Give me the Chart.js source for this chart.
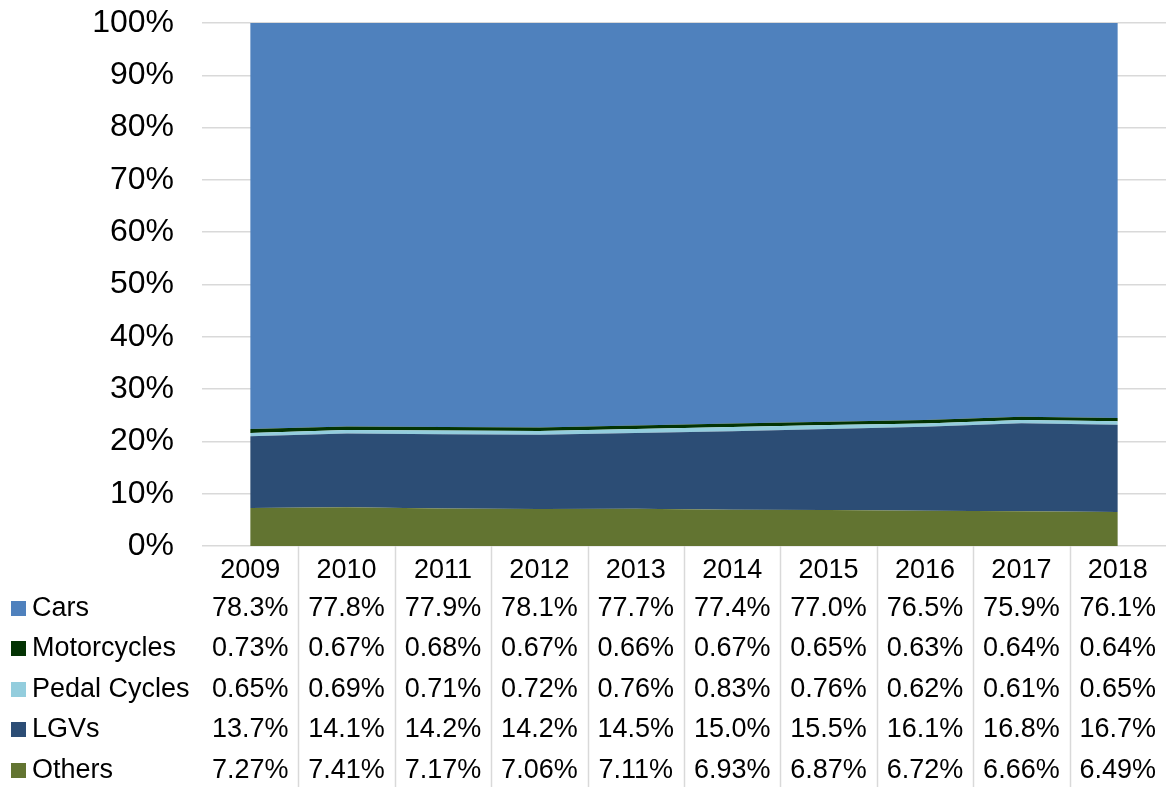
<!DOCTYPE html>
<html>
<head>
<meta charset="utf-8">
<script src="https://cdn.jsdelivr.net/npm/chart.js@4/dist/chart.umd.min.js"></script>
<style>
  html, body { margin: 0; padding: 0; background: #fff; }
  #wrap { width: 1169px; height: 787px; position: relative; }
</style>
</head>
<body>
<div id="wrap"><canvas id="chart"></canvas></div>
<script>
// -------------------------
// Datos
// -------------------------
const years = ["2009", "2010", "2011", "2012", "2013", "2014", "2015", "2016", "2017", "2018"];

const cars        = [78.3, 77.8, 77.9, 78.1, 77.7, 77.4, 77.0, 76.5, 75.9, 76.1];
const motorcycles = [0.73, 0.67, 0.68, 0.67, 0.66, 0.67, 0.65, 0.63, 0.64, 0.64];
const pedalCycles = [0.65, 0.69, 0.71, 0.72, 0.76, 0.83, 0.76, 0.62, 0.61, 0.65];
const lgvs        = [13.7, 14.1, 14.2, 14.2, 14.5, 15.0, 15.5, 16.1, 16.8, 16.7];
const others      = [7.27, 7.41, 7.17, 7.06, 7.11, 6.93, 6.87, 6.72, 6.66, 6.49];

// texto tal como aparece en la tabla
const carsTxt   = ["78.3%", "77.8%", "77.9%", "78.1%", "77.7%", "77.4%", "77.0%", "76.5%", "75.9%", "76.1%"];
const motoTxt   = ["0.73%", "0.67%", "0.68%", "0.67%", "0.66%", "0.67%", "0.65%", "0.63%", "0.64%", "0.64%"];
const pedalTxt  = ["0.65%", "0.69%", "0.71%", "0.72%", "0.76%", "0.83%", "0.76%", "0.62%", "0.61%", "0.65%"];
const lgvTxt    = ["13.7%", "14.1%", "14.2%", "14.2%", "14.5%", "15.0%", "15.5%", "16.1%", "16.8%", "16.7%"];
const othersTxt = ["7.27%", "7.41%", "7.17%", "7.06%", "7.11%", "6.93%", "6.87%", "6.72%", "6.66%", "6.49%"];

const yTicks = [0, 10, 20, 30, 40, 50, 60, 70, 80, 90, 100];

// -------------------------
// Colores
// -------------------------
const COL = {
  cars:   "#4f81bd",
  moto:   "#033303",
  pedal:  "#93cddd",
  lgv:    "#2c4d75",
  others: "#627431",
  grid:   "#d9d9d9"
};

const FONT = "'Liberation Sans', Arial, sans-serif";

// filas de la tabla (de arriba hacia abajo)
const tableRows = [
  { label: "Cars",         color: COL.cars,   vals: carsTxt },
  { label: "Motorcycles",  color: COL.moto,   vals: motoTxt },
  { label: "Pedal Cycles", color: COL.pedal,  vals: pedalTxt },
  { label: "LGVs",         color: COL.lgv,    vals: lgvTxt },
  { label: "Others",       color: COL.others, vals: othersTxt }
];

// -------------------------
// Plugin: tabla de datos bajo el eje
// -------------------------
const dataTablePlugin = {
  id: "dataTable",
  afterDraw(chart) {
    const ctx = chart.ctx;
    const xs = chart.scales.x;
    const area = chart.chartArea;
    const n = years.length;
    const colW = (area.right - area.left) / n;

    ctx.save();
    // separadores verticales
    ctx.strokeStyle = COL.grid;
    ctx.lineWidth = 1.5;
    for (let i = 1; i < n; i++) {
      const x = Math.round(area.left + i * colW) + 0.5;
      ctx.beginPath();
      ctx.moveTo(x, area.bottom);
      ctx.lineTo(x, chart.height);
      ctx.stroke();
    }

    ctx.fillStyle = "#000";
    ctx.font = "27px " + FONT;
    ctx.textBaseline = "middle";
    ctx.textAlign = "center";

    // años
    years.forEach((y, i) => ctx.fillText(y, xs.getPixelForValue(i), 571));

    // filas
    const rowY = [608, 648, 689, 729, 770];
    tableRows.forEach((row, r) => {
      const cy = rowY[r];
      ctx.fillStyle = row.color;
      ctx.fillRect(11, cy - 7, 15, 15);
      ctx.fillStyle = "#000";
      ctx.textAlign = "left";
      ctx.fillText(row.label, 32, cy + 1);
      ctx.textAlign = "center";
      row.vals.forEach((v, i) => ctx.fillText(v, xs.getPixelForValue(i), cy + 1));
    });
    ctx.restore();
  }
};

function areaSet(label, data, color, fill) {
  return {
    label, data, fill,
    backgroundColor: color,
    borderColor: color,
    borderWidth: 0,
    pointRadius: 0,
    tension: 0
  };
}

const ctx = document.getElementById("chart").getContext("2d");
new Chart(ctx, {
  type: "line",
  data: {
    labels: years,
    datasets: [
      areaSet("Others", others, COL.others, "origin"),
      areaSet("LGVs", lgvs, COL.lgv, "-1"),
      areaSet("Pedal Cycles", pedalCycles, COL.pedal, "-1"),
      areaSet("Motorcycles", motorcycles, COL.moto, "-1"),
      areaSet("Cars", cars, COL.cars, "-1")
    ]
  },
  options: {
    responsive: true,
    maintainAspectRatio: false,
    animation: false,
    layout: { padding: { left: 0, right: 3, top: 23, bottom: 241 } },
    plugins: {
      legend: { display: false },
      tooltip: { enabled: false }
    },
    scales: {
      x: {
        type: "category",
        display: false,
        offset: true
      },
      y: {
        stacked: true,
        min: 0,
        max: 100,
        afterFit(scale) {
          scale.width = 202;
          scale.paddingTop = 0;
          scale.paddingBottom = 0;
        },
        afterBuildTicks(scale) { scale.ticks = yTicks.map(v => ({ value: v })); },
        border: { display: false },
        grid: { color: COL.grid, lineWidth: 1.5, drawTicks: false },
        ticks: {
          padding: 28,
          color: "#000",
          font: { family: FONT, size: 32 },
          callback: v => v + "%"
        }
      }
    }
  },
  plugins: [dataTablePlugin]
});
</script>
</body>
</html>
